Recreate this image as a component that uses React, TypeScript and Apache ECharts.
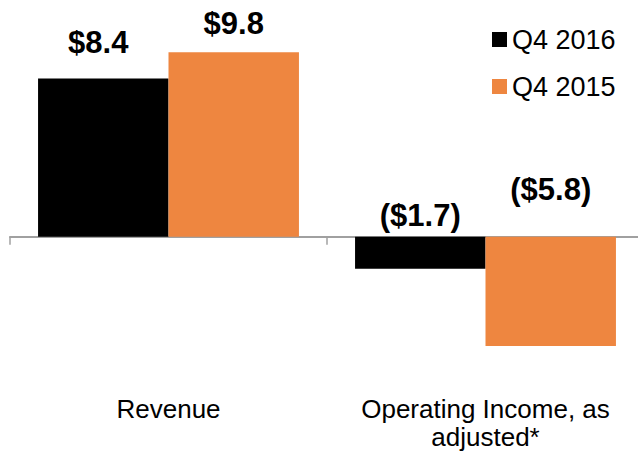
import React, { useEffect, useRef } from "react";
import * as echarts from "echarts";

const categories = ["Revenue", "Operating Income, as\nadjusted*"];
const seriesNames = ["Q4 2016", "Q4 2015"];
const q42016 = [8.4, -1.7];
const q42015 = [9.8, -5.8];

const COLORS = ["#000000", "#EE8640"];
const LABEL_DIST = [
  [21, 6],
  [13, 31.5],
];
const LABEL_DX = [
  [-5, 0],
  [0, 0],
];
const FONT = "'Liberation Sans', Arial, sans-serif";

const fmt = (v: number) =>
  v < 0 ? `($${Math.abs(v).toFixed(1)})` : `$${v.toFixed(1)}`;

export default function App() {
  const ref = useRef<HTMLDivElement>(null);
  useEffect(() => {
    if (!ref.current) return;
    const chart = echarts.init(ref.current, undefined, { renderer: "svg" });
    const mk = (vals: number[], si: number) => ({
      name: seriesNames[si],
      type: "bar",
      xAxisIndex: 0,
      barGap: "0%",
      barCategoryGap: "17.7%",
      itemStyle: { color: COLORS[si] },
      label: {
        show: true,
        position: "top",
        fontFamily: FONT,
        fontSize: 31,
        fontWeight: "bold",
        color: "#000",
        formatter: (p: any) => fmt(p.value),
      },
      data: vals.map((v, i) => ({
        value: v,
        label: { distance: LABEL_DIST[si][i], offset: [LABEL_DX[si][i], 0] },
      })),
    });
    chart.setOption({
      animation: false,
      grid: {
        left: 10,
        right: -6,
        top: 48.5,
        bottom: 65.6,
        containLabel: false,
        outerBoundsMode: "none",
      },
      legend: {
        orient: "vertical",
        left: 487,
        top: 21,
        itemWidth: 15,
        itemHeight: 15,
        itemGap: 20,
        icon: "rect",
        textStyle: { fontFamily: FONT, fontSize: 27, color: "#000" },
        data: seriesNames,
      },
      xAxis: [
        {
          type: "category",
          data: categories,
          position: "bottom",
          axisLine: { show: false, onZero: false },
          axisTick: { show: false },
          axisLabel: {
            interval: 0,
            margin: 7.5,
            fontFamily: FONT,
            fontSize: 26,
            lineHeight: 28,
            color: "#000",
          },
        },
        {
          type: "category",
          data: categories,
          position: "bottom",
          axisLine: {
            onZero: true,
            lineStyle: { color: "#A0A0A0", width: 2 },
          },
          axisTick: {
            show: true,
            length: 8,
            lineStyle: { color: "#A0A0A0", width: 1.5 },
          },
          axisLabel: { show: false },
        },
      ],
      yAxis: {
        type: "value",
        min: -8,
        max: 10,
        show: false,
        splitLine: { show: false },
      },
      series: [mk(q42016, 0), mk(q42015, 1)],
    });
    return () => chart.dispose();
  }, []);
  return (
    <div
      ref={ref}
      style={{ position: "absolute", left: 0, top: 0, width: 638, height: 453 }}
    />
  );
}
